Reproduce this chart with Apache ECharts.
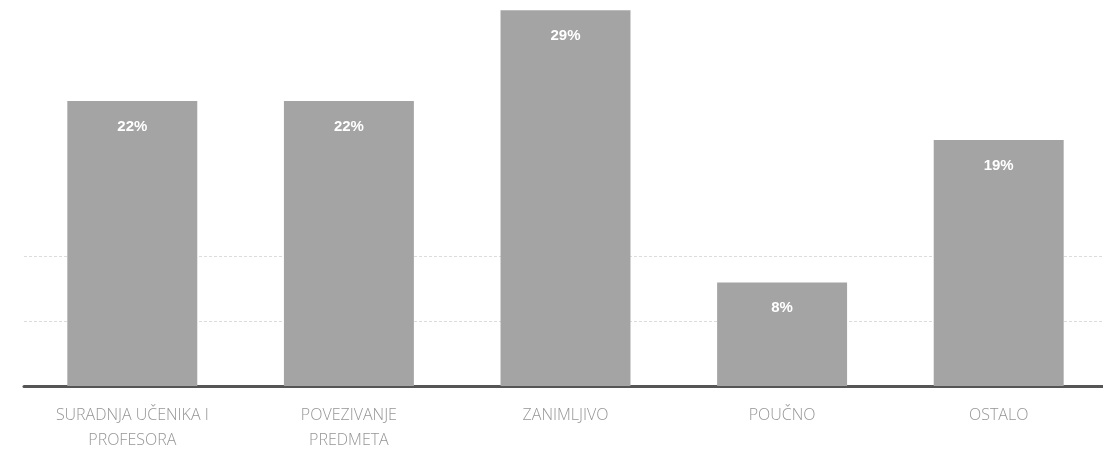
<!DOCTYPE html>
<html>
<head>
<meta charset="utf-8">
<script src="https://cdn.jsdelivr.net/npm/echarts@6/dist/echarts.min.js"></script>
<style>
  html, body { margin: 0; padding: 0; background: #fff; overflow: hidden; }
  #chart { width: 1112px; height: 457px; }
</style>
</head>
<body>
<div id="chart"></div>
<script>
const categories = ['SURADNJA UČENIKA I\nPROFESORA', 'POVEZIVANJE\nPREDMETA', 'ZANIMLJIVO', 'POUČNO', 'OSTALO'];
const shares = [22, 22, 29, 8, 19];
// only the two lowest gridlines survive in the scan
const gridColors = ['#dcdcdc', '#dcdcdc', '#dcdcdc', 'rgba(0,0,0,0)', 'rgba(0,0,0,0)', 'rgba(0,0,0,0)', 'rgba(0,0,0,0)'];

const chart = echarts.init(document.getElementById('chart'));

chart.setOption({
  animation: false,
  grid: { left: 24, top: 0, width: 1083, bottom: 71 },
  xAxis: {
    type: 'category',
    data: categories,
    axisLine: { lineStyle: { color: '#555', width: 3 } },
    axisTick: { show: false },
    axisLabel: {
      interval: 0,
      margin: 17,
      color: '#959595',
      fontFamily: 'Open Sans',
      fontWeight: 300,
      fontSize: 16,
      lineHeight: 25
    }
  },
  yAxis: {
    type: 'value',
    min: 0,
    max: 29.8,
    interval: 5,
    axisLabel: { show: false },
    axisLine: { show: false },
    axisTick: { show: false },
    splitLine: { lineStyle: { color: gridColors, type: [3, 2], width: 1 } }
  },
  series: [{
    type: 'bar',
    data: shares,
    barCategoryGap: '40%',
    itemStyle: { color: '#a4a4a4' },
    label: {
      show: true,
      position: 'insideTop',
      distance: 18,
      formatter: '{c}%',
      color: '#fff',
      fontFamily: 'Liberation Sans Narrow, Arial Narrow, sans-serif',
      fontWeight: 'bold',
      fontSize: 15
    }
  }]
});
</script>
</body>
</html>
